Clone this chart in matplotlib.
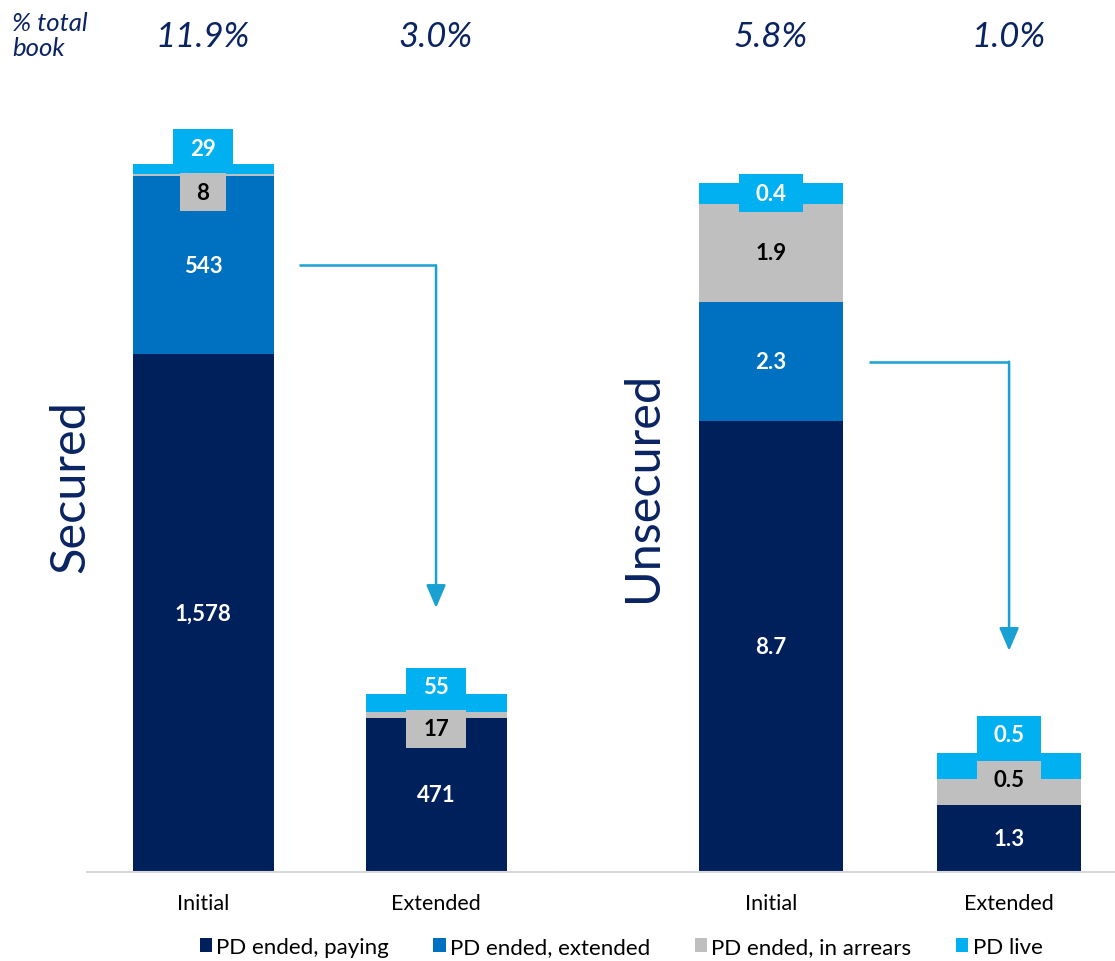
import numpy as np
import matplotlib
matplotlib.use("Agg")
import matplotlib.pyplot as plt
from matplotlib.patches import Patch
from matplotlib.path import Path

plt.rcParams['font.family'] = ['Lato', 'DejaVu Sans']

# ---- data ----
categories = ["Initial", "Extended"]
series_names = ["PD ended, paying", "PD ended, extended", "PD ended, in arrears", "PD live"]

secured_paying = [1578, 471]
secured_extended = [543, 0]
secured_arrears = [8, 17]
secured_live = [29, 55]

unsecured_paying = [8.7, 1.3]
unsecured_extended = [2.3, 0]
unsecured_arrears = [1.9, 0.5]
unsecured_live = [0.4, 0.5]

share_of_book = ["11.9%", "3.0%", "5.8%", "1.0%"]

# ---- style ----
colors = ["#00205B", "#0070C0", "#BFBFBF", "#00B0F0"]
text_colors = ["white", "white", "black", "white"]
navy = "#0A2463"
arrow_color = "#1AA0D2"
W, H = 1115, 962


def wide_box(x0, y0, width, height, mutation_size):
    # box with more horizontal than vertical padding
    px = 0.75 * mutation_size
    py = 0.38 * mutation_size
    x0, y0 = x0 - px, y0 - py
    x1, y1 = x0 + width + 2 * px, y0 + height + 2 * py
    return Path([(x0, y0), (x1, y0), (x1, y1), (x0, y1), (x0, y0)], closed=True)


fig = plt.figure(figsize=(W / 100, H / 100), dpi=100)

# panel placement in pixels
panels = [
    dict(left=87, right=560, xlim=(-0.498, 1.532), ylim=(0, 2357),
         series=[secured_paying, secured_extended, secured_arrears, secured_live],
         fmt="{:,.0f}", title="Secured", title_x=70,
         # label offsets in px (up positive) for small segments drawn in a box
         boxed={(3, 0): 21, (3, 1): 16, (2, 0): -17, (2, 1): -14},
         arrow_gap=86),
    dict(left=560, right=1115, xlim=(-0.887, 1.445), ylim=(0, 14.92),
         series=[unsecured_paying, unsecured_extended, unsecured_arrears, unsecured_live],
         fmt="{:.1f}", title="Unsecured", title_x=643,
         boxed={(3, 0): 0, (3, 1): 31, (2, 1): 12},
         arrow_gap=102),
]

bottom_px, top_px = 873, 100
bar_w = 0.605
x = np.arange(len(categories))

for p in panels:
    ax = fig.add_axes([p["left"] / W, (H - bottom_px) / H,
                       (p["right"] - p["left"]) / W, (bottom_px - top_px) / H])
    ax.set_xlim(*p["xlim"])
    ax.set_ylim(*p["ylim"])
    for s in ["top", "right", "left"]:
        ax.spines[s].set_visible(False)
    ax.spines["bottom"].set_color("#D9D9D9")
    ax.spines["bottom"].set_linewidth(1.5)
    ax.set_yticks([])
    ax.set_xticks(x)
    ax.set_xticklabels(categories, fontsize=15.5, color="black")
    ax.tick_params(axis="x", length=0, pad=15)

    px_per_unit = (bottom_px - top_px) / p["ylim"][1]
    base = np.zeros(len(categories))
    for k, vals in enumerate(p["series"]):
        vals = np.array(vals, dtype=float)
        ax.bar(x, vals, bar_w, bottom=base, color=colors[k], edgecolor="none", zorder=2)
        for i, v in enumerate(vals):
            if v <= 0:
                continue
            mid = base[i] + v / 2
            label = p["fmt"].format(v)
            if (k, i) in p["boxed"]:
                dy = p["boxed"][(k, i)] * 0.72
                ax.annotate(label, (x[i], mid), xytext=(0, dy), textcoords="offset points",
                            ha="center", va="center", fontsize=16, fontweight="bold",
                            color=text_colors[k], zorder=4,
                            bbox=dict(boxstyle=wide_box, fc=colors[k], ec="none"))
            else:
                ax.text(x[i], mid, label, ha="center", va="center", fontsize=16,
                        fontweight="bold", color=text_colors[k], zorder=4)
        base = base + vals

    # arrow from initial "extended" segment to extended bar
    p_vals, e_vals = p["series"][0], p["series"][1]
    y0 = p_vals[0] + e_vals[0] / 2
    x0 = x[0] + bar_w / 2 + 0.11
    tip = base[1] + p["arrow_gap"] / px_per_unit
    ax.plot([x0, x[1]], [y0, y0], color=arrow_color, lw=1.8, solid_capstyle="butt", zorder=3)
    ax.annotate("", xy=(x[1], tip), xytext=(x[1], y0),
                arrowprops=dict(arrowstyle="-|>,head_length=0.7,head_width=0.3",
                                color=arrow_color, lw=1.8, shrinkA=0, shrinkB=0,
                                mutation_scale=20), zorder=3)

    fig.text(p["title_x"] / W, 1 - 487 / H, p["title"], rotation=90, ha="center",
             va="center", fontsize=35, color=navy)

# % of total book row
bar_centers_px = [203, 436, 771, 1009]
for cx, s in zip(bar_centers_px, share_of_book):
    fig.text(cx / W, 1 - 37 / H, s, ha="center", va="center", fontsize=25,
             style="italic", color=navy)
fig.text(12 / W, 1 - 36 / H, "% total\nbook", ha="left", va="center", fontsize=18.5,
         style="italic", color=navy, linespacing=1.15)

handles = [Patch(facecolor=c, edgecolor="none") for c in colors]
fig.legend(handles, series_names, loc="center", bbox_to_anchor=(621 / W, 1 - 948 / H),
           ncol=4, frameon=False, fontsize=16, handlelength=0.55, handleheight=0.55,
           handletextpad=0.2, columnspacing=2.0)

fig.savefig("out.png", dpi=100)
